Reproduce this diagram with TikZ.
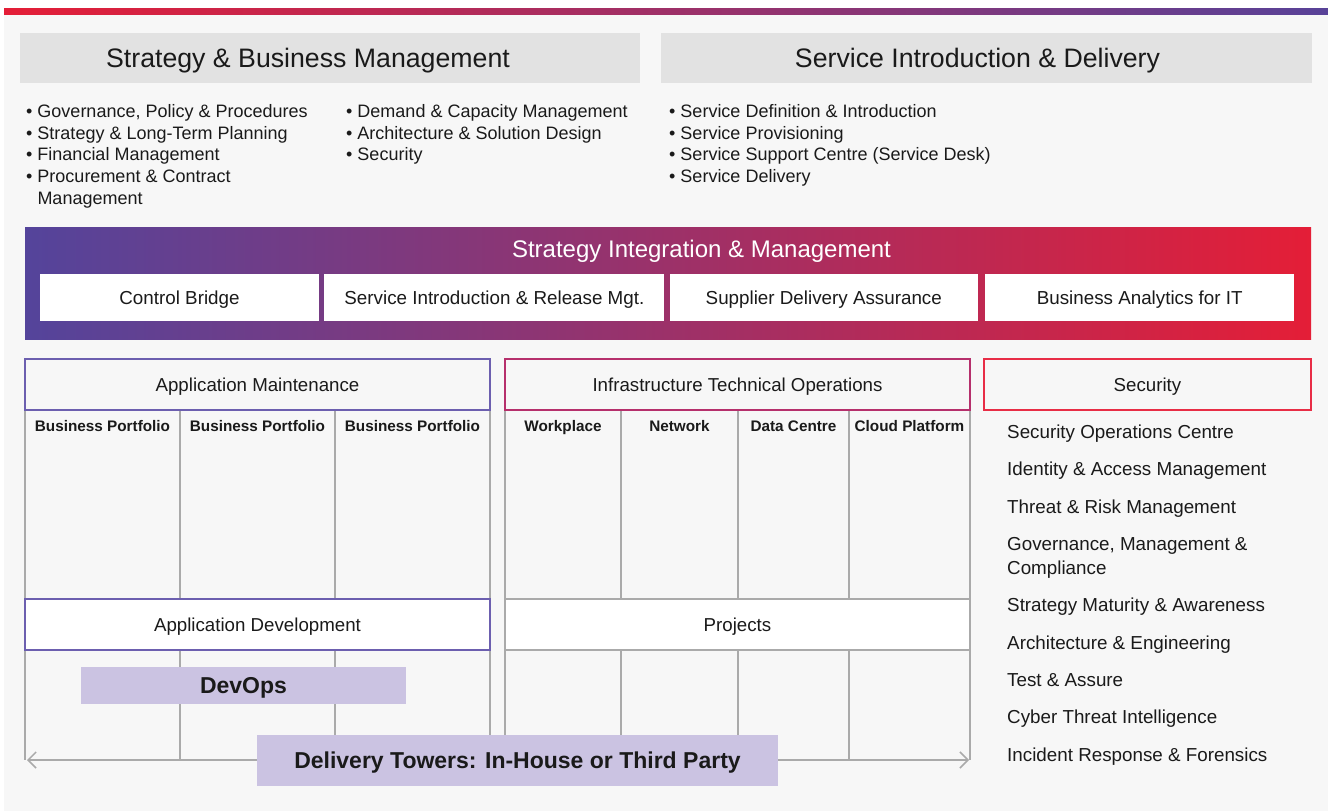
\documentclass[tikz,border=0pt]{standalone}
\usepackage{fontspec}
\setmainfont{Liberation Sans}
\usetikzlibrary{arrows.meta,positioning}

\definecolor{bggrey}{RGB}{247,247,247}
\definecolor{hdrgrey}{RGB}{226,226,226}
\definecolor{ink}{RGB}{26,26,26}
\definecolor{brandred}{RGB}{228,30,55}
\definecolor{brandpurple}{RGB}{88,66,152}
\definecolor{simleft}{RGB}{84,68,155}
\definecolor{simmid}{RGB}{166,40,102}
\definecolor{simright}{RGB}{228,30,55}
\definecolor{appline}{RGB}{108,95,175}
\definecolor{infline}{RGB}{182,48,108}
\definecolor{secline}{RGB}{232,45,70}
\definecolor{gridgrey}{RGB}{170,170,170}
\definecolor{lavender}{RGB}{203,195,226}

\begin{document}
\begin{tikzpicture}[x=1pt,y=-1pt,
    every node/.style={inner sep=0pt,text=ink},
    hdrbox/.style={fill=hdrgrey,minimum height=50pt},
    hdrtitle/.style={font=\fontsize{26.7}{32}\selectfont,text height=19.1pt,text depth=0pt},
    bullets/.style={anchor=north west,align=left,font=\fontsize{18}{21.7}\selectfont},
    simbox/.style={fill=white,minimum height=47pt,font=\fontsize{18.8}{22}\selectfont,text height=13.4pt,text depth=0pt},
    tower/.style={draw,line width=1.3pt,minimum height=51pt,font=\fontsize{18.7}{22}\selectfont,text height=13.4pt,text depth=0pt},
    collabel/.style={font=\bfseries\fontsize{15.3}{18}\selectfont,text height=11pt,text depth=0pt},
    band/.style={fill=lavender,font=\bfseries\fontsize{23}{27}\selectfont,text height=16.5pt,text depth=0pt},
    colline/.style={draw=gridgrey,line width=1.3pt}]
  \useasboundingbox (0,0) rectangle (1328,811);
  \fill[bggrey] (4,14) rectangle (1328,811);
  \shade[left color=brandred,right color=brandpurple] (4,8) rectangle (1328,14.5);

  % top headers
  \node[hdrbox,minimum width=620pt] (sbm) at (330,58) {};
  \node[hdrtitle] (sbmtitle) at ([xshift=-22pt]sbm.center) {Strategy \& Business Management};
  \node[hdrbox,minimum width=651pt] (sid) at (986.5,58) {};
  \node[hdrtitle] (sidtitle) at ([xshift=-9pt]sid.center) {Service Introduction \& Delivery};

  \node[bullets] (sbmlist) at (26,104.2) {\textbullet\ Governance, Policy \& Procedures\\
    \textbullet\ Strategy \& Long-Term Planning\\
    \textbullet\ Financial Management\\
    \textbullet\ Procurement \& Contract\\
    \phantom{\textbullet\ }Management};
  \node[bullets] (sbmlist2) at (346,104.2) {\textbullet\ Demand \& Capacity Management\\
    \textbullet\ Architecture \& Solution Design\\
    \textbullet\ Security};
  \node[bullets] (sidlist) at (669,104.2) {\textbullet\ Service Definition \& Introduction\\
    \textbullet\ Service Provisioning\\
    \textbullet\ Service Support Centre (Service Desk)\\
    \textbullet\ Service Delivery};

  % integration band
  \node[left color=simleft,middle color=simmid,right color=simright,
    minimum width=1286pt,minimum height=112pt] (sim) at (668,283) {};
  \node[text=white,font=\fontsize{24}{28}\selectfont,text height=17.2pt,text depth=0pt]
    (simtitle) at (701.5,249) {Strategy Integration \& Management};
  \node[simbox,minimum width=279pt] (cb) at (179.5,297.5) {Control Bridge};
  \node[simbox,minimum width=340pt,right=5pt of cb] (sirm) {Service Introduction \& Release Mgt.};
  \node[simbox,minimum width=308pt,right=5pt of sirm] (sda) {Supplier Delivery Assurance};
  \node[simbox,minimum width=309pt,right=7pt of sda] (bait) {Business Analytics for IT};

  % delivery towers
  \foreach \x in {25,180,335,490,505,621,738,849,970}
    \draw[colline] (\x,410) -- (\x,760);
  \node[tower,draw=appline,fill=bggrey,minimum width=465pt] (appm) at (257.5,384.5) {Application Maintenance};
  \node[tower,draw=infline,fill=bggrey,minimum width=465pt] (ito) at (737.5,384.5) {Infrastructure Technical Operations};
  \node[tower,draw=secline,fill=bggrey,minimum width=327pt] (sec) at (1147.5,384.5) {Security};

  \node[collabel] (bp1) at (102.5,426) {Business Portfolio};
  \node[collabel] (bp2) at (257.5,426) {Business Portfolio};
  \node[collabel] (bp3) at (412.5,426) {Business Portfolio};
  \node[collabel] (wp) at (563,426) {Workplace};
  \node[collabel] (nw) at (679.5,426) {Network};
  \node[collabel] (dc) at (793.5,426) {Data Centre};
  \node[collabel] (cp) at (909.5,426) {Cloud Platform};

  \node[tower,draw=appline,fill=white,minimum width=465pt] (appd) at (257.5,624.5) {Application Development};
  \node[tower,draw=gridgrey,fill=white,minimum width=465pt] (proj) at (737.5,624.5) {Projects};
  \node[band,minimum width=325pt,minimum height=37pt] (devops) at (243.5,685.5) {DevOps};

  \coordinate (arrl) at (27,760);
  \coordinate (arrr) at (969,760);
  \draw[colline,{Straight Barb[length=8pt,width=16pt,line width=1.5pt]}-{Straight Barb[length=8pt,width=16pt,line width=1.5pt]}] (arrl) -- (arrr);
  \node[band,minimum width=521pt,minimum height=51pt] (dt) at (517.5,760.5) {Delivery Towers: In-House or Third Party};

  \node[anchor=north west,align=left,font=\fontsize{18.8}{24}\selectfont] (seclist) at (1007,424.8)
    {Security Operations Centre\\[13.3pt]
     Identity \& Access Management\\[13.3pt]
     Threat \& Risk Management\\[13.3pt]
     Governance, Management \&\\
     Compliance\\[13.3pt]
     Strategy Maturity \& Awareness\\[13.3pt]
     Architecture \& Engineering\\[13.3pt]
     Test \& Assure\\[13.3pt]
     Cyber Threat Intelligence\\[13.3pt]
     Incident Response \& Forensics};
\end{tikzpicture}
\end{document}
